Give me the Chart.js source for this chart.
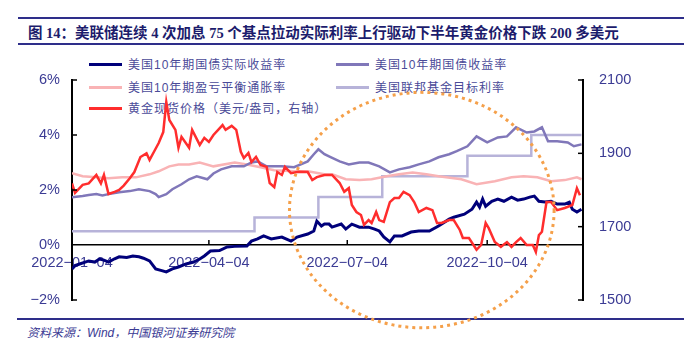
<!DOCTYPE html>
<html>
<head>
<meta charset="utf-8">
<script src="https://cdn.jsdelivr.net/npm/chart.js@4.4.1/dist/chart.umd.min.js"></script>
<style>
  body { margin: 0; background: #fff; width: 684px; height: 352px; overflow: hidden; position: relative; font-family: "Noto Sans CJK SC", sans-serif; }
  .rule { position: absolute; right: 0; border-top: 2px solid #2e2e8a; }
  #title { position: absolute; left: 28px; top: 21px; font-size: 14.5px; font-weight: bold; color: #1c1c6c; white-space: nowrap; font-family: "Liberation Serif", "Noto Sans CJK SC", serif; }
  #src { position: absolute; left: 27px; top: 323px; font-size: 12px; font-style: italic; color: #3b3b94; white-space: nowrap; font-family: "Liberation Sans", "Noto Sans CJK SC", sans-serif; }
  .item { position: absolute; font-size: 12px; color: #4a4a98; letter-spacing: 1px; white-space: nowrap; line-height: 16px; font-family: "Liberation Sans", "Noto Sans CJK SC", sans-serif; }
  .item i { display: inline-block; width: 33px; height: 3px; vertical-align: middle; margin-right: 6px; position: relative; top: -1px; }
  #wrap { position: absolute; left: 0; top: 0; width: 684px; height: 352px; z-index: 1; }
</style>
</head>
<body>
<div class="rule" style="left:18px;top:17px"></div>
<div id="title">图 14：美联储连续 4 次加息 75 个基点拉动实际利率上行驱动下半年黄金价格下跌 200 多美元</div>
<div class="rule" style="left:18px;top:43px"></div>

<div class="item" style="left:89px;top:57px"><i style="background:#00007a"></i>美国10年期国债实际收益率</div>
<div class="item" style="left:336px;top:57px"><i style="background:#8077b9"></i>美国10年期国债收益率</div>
<div class="item" style="left:89px;top:80px"><i style="background:#f9b3b5"></i>美国10年期盈亏平衡通胀率</div>
<div class="item" style="left:336px;top:80px"><i style="background:#b7b3d9"></i>美国联邦基金目标利率</div>
<div class="item" style="left:89px;top:101px"><i style="background:#ff2d2d"></i>黄金现货价格（美元/盎司，右轴）</div>

<div id="wrap"><canvas id="chart" width="684" height="352"></canvas></div>

<div class="rule" style="left:17px;top:318px"></div>
<div id="src">资料来源：Wind，中国银河证券研究院</div>

<script>
// x = days since 2022-01-04
const tickDays = [0, 90, 181, 273];
const tickLabels = ['2022−01−04', '2022−04−04', '2022−07−04', '2022−10−04'];

const goldDays = [0,2,7,11,16,19,21,24,28,31,34,38,41,45,49,51,54,57,60,62,64,68,70,72,77,79,84,87,90,93,99,101,105,108,111,113,116,118,121,124,128,130,133,135,138,140,144,149,155,158,161,166,171,176,179,182,184,187,190,192,195,197,200,202,205,209,212,215,218,222,225,228,233,237,240,243,248,251,255,257,261,266,269,272,274,278,282,286,289,292,295,299,303,305,307,309,312,315,319,324,329,332,334];
const goldPrice = [1818,1792,1814,1818,1841,1818,1841,1789,1795,1800,1812,1832,1849,1890,1900,1882,1905,1928,1958,2040,1991,1964,1915,1945,1915,1964,1923,1942,1931,1950,1977,1964,1975,1964,1904,1887,1901,1876,1890,1868,1863,1819,1808,1849,1841,1863,1846,1850,1849,1827,1835,1841,1841,1819,1795,1805,1759,1740,1732,1705,1718,1710,1740,1718,1713,1767,1778,1778,1795,1786,1767,1740,1751,1745,1710,1710,1718,1718,1691,1669,1669,1637,1650,1710,1696,1658,1645,1658,1645,1658,1669,1650,1650,1631,1677,1686,1767,1767,1745,1751,1759,1805,1786];

const realDays = [0,2,5,11,15,18,21,24,28,31,36,40,44,47,51,55,59,62,66,70,75,80,84,87,91,97,102,107,115,118,122,126,131,138,144,148,155,159,161,164,166,169,171,177,180,184,189,195,199,202,205,209,212,217,223,228,235,241,248,251,258,263,266,268,270,272,276,280,284,289,293,297,301,304,307,311,315,319,324,327,329,332,335];
const realYield = [-0.87,-0.75,-0.69,-0.58,-0.62,-0.51,-0.55,-0.62,-0.5,-0.43,-0.45,-0.4,-0.43,-0.48,-0.58,-0.87,-0.93,-0.98,-0.87,-0.8,-0.69,-0.62,-0.51,-0.4,-0.22,-0.2,-0.07,-0.05,-0.04,0.14,0.22,0.33,0.22,0.29,0.14,0.29,0.4,0.51,0.87,0.69,0.76,0.76,0.65,0.76,0.58,0.76,0.65,0.65,0.58,0.51,0.29,0.11,0.33,0.33,0.47,0.51,0.51,0.69,0.94,1.01,1.12,1.3,1.56,1.38,1.67,1.41,1.59,1.67,1.59,1.74,1.63,1.67,1.74,1.78,1.59,1.56,1.59,1.49,1.49,1.56,1.3,1.2,1.3];

const nomDays = [0,7,11,16,20,24,31,38,44,51,55,57,62,66,72,77,82,89,93,98,105,113,118,122,128,138,146,155,159,162,166,169,176,182,189,195,202,209,215,222,228,235,241,248,253,260,266,273,280,286,292,299,304,309,313,319,326,330,335];
const nomYield = [1.74,1.78,1.82,1.85,1.8,1.85,1.92,1.96,2.03,1.96,1.85,1.74,1.85,2.03,2.21,2.39,2.5,2.39,2.6,2.75,2.86,2.86,3.0,3.04,2.86,2.86,2.83,3.04,3.3,3.48,3.3,3.22,3.04,2.93,3.0,3.0,2.86,2.64,2.75,2.83,2.93,3.04,3.19,3.3,3.41,3.59,3.95,3.73,3.91,3.95,4.28,4.09,4.13,4.28,3.77,3.77,3.73,3.59,3.66];

const beDays = [0,7,16,24,33,42,51,57,64,70,77,84,93,107,115,124,133,146,155,166,171,180,189,197,207,215,224,233,241,256,266,278,289,297,306,315,324,332,335];
const beRate = [2.61,2.5,2.46,2.43,2.46,2.46,2.57,2.68,2.86,2.93,2.93,3.0,2.86,3.0,2.93,2.83,2.72,2.68,2.68,2.57,2.57,2.39,2.36,2.39,2.5,2.57,2.64,2.57,2.5,2.39,2.21,2.32,2.46,2.5,2.46,2.32,2.36,2.46,2.39];

const fedDays = [0,120,162,204,260,302,335];
const fedRate = [0.5,1.0,1.75,2.5,3.25,4.0,4.0];

// dotted ring, in data units (days / left-axis %)
const ring = { day: 230, rate: 1.27, rx: 87, ry: 4.28 };

const pts = (xs, ys) => xs.map((x, i) => ({ x, y: ys[i] }));
const tickColor = '#3b3b94';
const tickFont = { family: 'Liberation Sans', size: 14.5 };

const decor = {
  id: 'decor',
  afterDatasetsDraw(chart) {
    const { ctx, chartArea: a, scales: { x, y, y1 } } = chart;
    const line = (x1, y1_, x2, y2) => { ctx.beginPath(); ctx.moveTo(x1, y1_); ctx.lineTo(x2, y2); ctx.stroke(); };
    ctx.save();
    ctx.strokeStyle = '#000';
    ctx.lineWidth = 1.5;
    const y0 = y.getPixelForValue(0);
    tickDays.forEach(d => { const px = x.getPixelForValue(d); line(px, y0, px, y0 - 5); });
    [-2, 2, 4, 6].forEach(v => { const py = y.getPixelForValue(v); line(a.left, py, a.left + 5, py); });
    [1500, 1700, 1900, 2100].forEach(v => { const py = y1.getPixelForValue(v); line(a.right, py, a.right - 5, py); });

    const cx = x.getPixelForValue(ring.day), cy = y.getPixelForValue(ring.rate);
    const rx = x.getPixelForValue(ring.day + ring.rx) - cx;
    const ry = cy - y.getPixelForValue(ring.rate + ring.ry);
    ctx.setLineDash([3, 4]);
    ctx.lineWidth = 3;
    ctx.strokeStyle = '#f5a04a';
    ctx.beginPath();
    ctx.ellipse(cx, cy, rx, ry, 0, 0, Math.PI * 2);
    ctx.stroke();
    ctx.restore();
  }
};

new Chart(document.getElementById('chart'), {
  type: 'line',
  data: {
    datasets: [
      { label: '黄金现货价格（美元/盎司，右轴）', data: pts(goldDays, goldPrice), yAxisID: 'y1', borderColor: '#ff2d2d', borderWidth: 2.5 },
      { label: '美国10年期国债实际收益率', data: pts(realDays, realYield), yAxisID: 'y', borderColor: '#00007a', borderWidth: 3 },
      { label: '美国10年期国债收益率', data: pts(nomDays, nomYield), yAxisID: 'y', borderColor: '#8077b9', borderWidth: 2.5 },
      { label: '美国10年期盈亏平衡通胀率', data: pts(beDays, beRate), yAxisID: 'y', borderColor: '#f9b3b5', borderWidth: 2.5 },
      { label: '美国联邦基金目标利率', data: pts(fedDays, fedRate), yAxisID: 'y', borderColor: '#b7b3d9', borderWidth: 2.5, stepped: 'before' }
    ]
  },
  options: {
    responsive: false,
    animation: false,
    devicePixelRatio: 1,
    layout: { padding: { top: 80, bottom: 52, left: 0, right: 0 } },
    elements: { point: { radius: 0 }, line: { tension: 0 } },
    plugins: { legend: { display: false }, tooltip: { enabled: false } },
    scales: {
      x: {
        type: 'linear',
        min: 0,
        max: 336,
        position: { y: 0 },
        afterBuildTicks: s => { s.ticks = tickDays.map(v => ({ value: v })); },
        ticks: {
          autoSkip: false,
          maxRotation: 0,
          padding: 9,
          color: tickColor,
          font: tickFont,
          callback: v => tickLabels[tickDays.indexOf(v)]
        },
        grid: { display: false, drawTicks: false },
        border: { display: true, color: '#000', width: 1.5 }
      },
      y: {
        position: 'left',
        min: -2,
        max: 6,
        afterFit: s => { s.width = 72; },
        ticks: {
          stepSize: 2,
          padding: 12,
          color: tickColor,
          font: tickFont,
          callback: v => (v < 0 ? '−' : '') + Math.abs(v) + '%'
        },
        grid: { display: false, drawTicks: false },
        border: { display: true, color: '#000', width: 2 }
      },
      y1: {
        position: 'right',
        min: 1500,
        max: 2100,
        afterFit: s => { s.width = 101; },
        ticks: { stepSize: 200, padding: 16, color: tickColor, font: tickFont, callback: v => String(v) },
        grid: { display: false, drawTicks: false },
        border: { display: true, color: '#000', width: 2 }
      }
    }
  },
  plugins: [decor]
});
</script>
</body>
</html>
